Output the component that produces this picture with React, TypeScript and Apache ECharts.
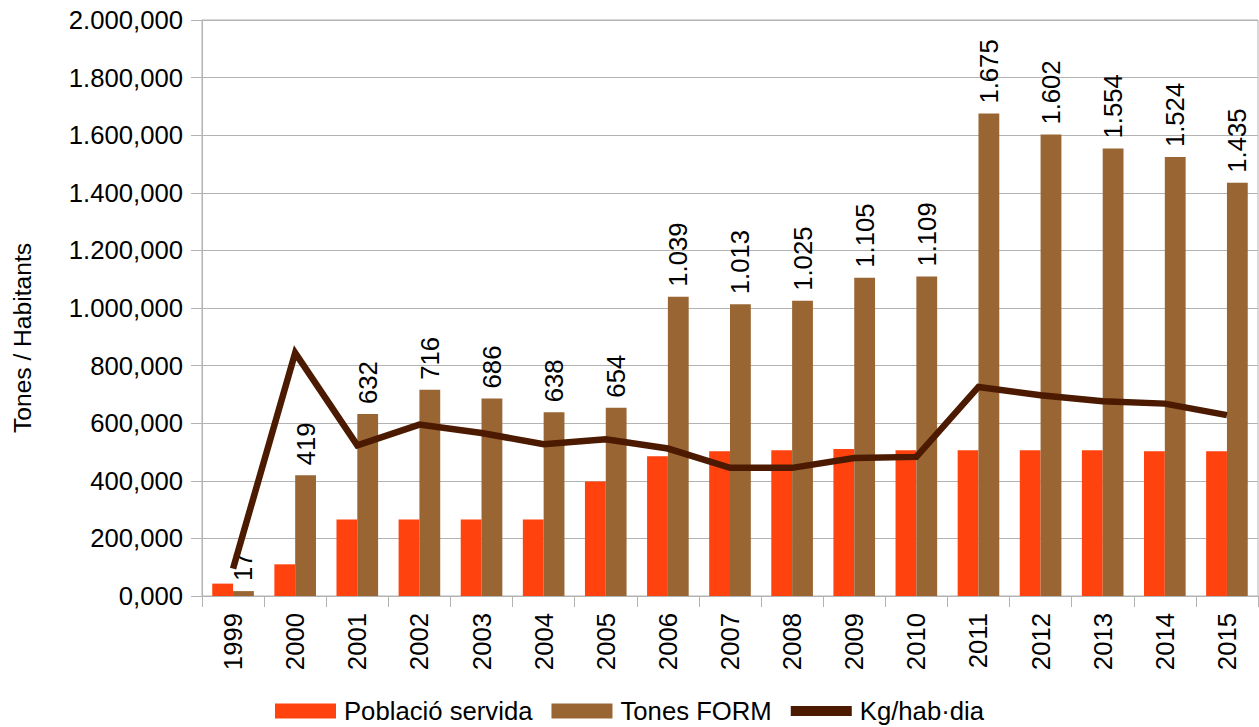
import React, { useEffect, useRef } from "react";
import * as echarts from "echarts";

const categories = ["1999", "2000", "2001", "2002", "2003", "2004", "2005", "2006", "2007", "2008", "2009", "2010", "2011", "2012", "2013", "2014", "2015"];
const poblacioServida = [43, 110, 266, 266, 266, 266, 398, 485, 503, 506, 510, 506, 506, 506, 506, 503, 503];
const tonesForm = [17, 419, 632, 716, 686, 638, 654, 1039, 1013, 1025, 1105, 1109, 1675, 1602, 1554, 1524, 1435];
const kgHabDia = [95, 844, 523, 595, 566, 527, 544, 512, 445, 445, 479, 483, 726, 697, 676, 668, 628];

const seriesNames = ["Població servida", "Tones FORM", "Kg/hab·dia"];
const yTitle = "Tones / Habitants";

const FONT = "'Liberation Sans', Arial, sans-serif";
const FS = 25.7;

function thousands(v: number): string {
  return Math.round(v).toString().replace(/\B(?=(\d{3})+(?!\d))/g, ".");
}

export default function App() {
  const ref = useRef<HTMLDivElement>(null);
  useEffect(() => {
    document.body.style.margin = "0";
    const chart = echarts.init(ref.current!, null, { renderer: "svg" });
    chart.setOption({
      animation: false,
      textStyle: { fontFamily: FONT },
      grid: {
        left: 202,
        right: 1,
        top: 20,
        bottom: 131,
        show: true,
        borderColor: "#b3b3b3",
        borderWidth: 1,
      },
      legend: {
        top: 697,
        left: "center",
        padding: 0,
        itemWidth: 61,
        itemHeight: 15,
        itemGap: 19,
        textStyle: { fontSize: FS, color: "#000", fontFamily: FONT, lineHeight: 28, padding: [0, 0, 0, 3] },
        data: [
          { name: seriesNames[0], icon: "rect" },
          { name: seriesNames[1], icon: "rect" },
          { name: seriesNames[2], icon: "path://M0,0h60v10h-60z" },
        ],
      },
      xAxis: {
        type: "category",
        data: categories,
        boundaryGap: true,
        axisLine: { show: true, lineStyle: { color: "#b3b3b3", width: 1 } },
        axisTick: { show: true, length: 11, lineStyle: { color: "#b3b3b3" } },
        axisLabel: { rotate: 90, fontSize: FS, color: "#000", margin: 17, fontFamily: FONT, interval: 0 },
        splitLine: { show: false },
      },
      yAxis: {
        type: "value",
        min: 0,
        max: 2000,
        interval: 200,
        axisLine: { show: true, lineStyle: { color: "#b3b3b3", width: 1 } },
        axisTick: { show: true, length: 11, lineStyle: { color: "#b3b3b3" } },
        axisLabel: {
          fontSize: FS,
          color: "#000",
          margin: 19,
          fontFamily: FONT,
          formatter: (v: number) => thousands(v) + ",000",
        },
        splitLine: { show: true, lineStyle: { color: "#b3b3b3", width: 1 } },
      },
      graphic: [
        {
          type: "text",
          x: 22,
          y: 338,
          rotation: Math.PI / 2,
          style: {
            text: yTitle,
            fontSize: 24.6,
            fontFamily: FONT,
            fill: "#000",
            align: "center",
            verticalAlign: "middle",
          },
        },
      ],
      series: [
        {
          name: seriesNames[0],
          type: "bar",
          data: poblacioServida,
          barGap: "0%",
          barCategoryGap: "33%",
          itemStyle: { color: "#ff420e" },
          z: 2,
        },
        {
          name: seriesNames[1],
          type: "bar",
          data: tonesForm,
          barGap: "0%",
          barCategoryGap: "33%",
          itemStyle: { color: "#996633" },
          z: 2,
          label: {
            show: true,
            position: "top",
            rotate: 90,
            align: "left",
            verticalAlign: "middle",
            distance: 10,
            fontSize: FS,
            color: "#000",
            fontFamily: FONT,
            formatter: (p: any) => thousands(p.value),
          },
        },
        {
          name: seriesNames[2],
          type: "line",
          data: kgHabDia,
          showSymbol: false,
          symbol: "none",
          itemStyle: { color: "#4b1a00" },
          lineStyle: { color: "#4b1a00", width: 6.5, join: "miter" },
          z: 3,
        },
      ],
    });
    return () => chart.dispose();
  }, []);
  return <div ref={ref} style={{ width: 1259, height: 727 }} />;
}
